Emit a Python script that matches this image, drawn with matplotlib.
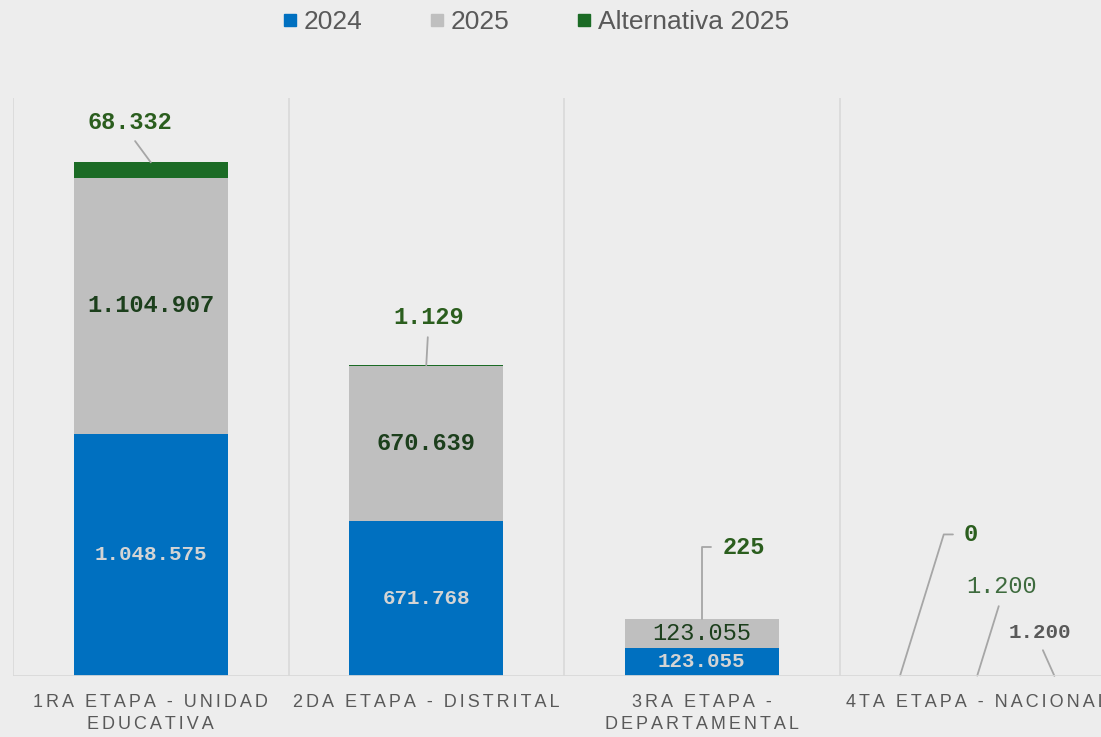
import matplotlib
matplotlib.use("Agg")
import matplotlib.pyplot as plt
from matplotlib import font_manager
from matplotlib.lines import Line2D
import numpy as np

# values
categories = ["1RA ETAPA - UNIDAD\nEDUCATIVA", "2DA ETAPA - DISTRITAL",
              "3RA ETAPA -\nDEPARTAMENTAL", "4TA ETAPA - NACIONAL"]
v2024 = [1048575, 671768, 123055, 1200]
v2025 = [1104907, 670639, 123055, 1200]
v_alt = [68332, 1129, 225, 0]
series_names = ["2024", "2025", "Alternativa 2025"]

BLUE, GRAY, GREEN = "#0070C0", "#BFBFBF", "#1B6B25"
TXT = "#595959"
LEADER = "#A6A6A6"

installed = {f.name for f in font_manager.fontManager.ttflist}
if "Liberation Sans Narrow" in installed:
    cat_family, cat_size, gap = ["Liberation Sans Narrow", "Liberation Sans", "DejaVu Sans"], 14, "\u2009"
else:
    cat_family, cat_size, gap = ["Liberation Sans", "DejaVu Sans"], 13, "\u2006"
MONO = ["Liberation Mono", "DejaVu Sans Mono"]


def fmt(v):
    return f"{v:,}".replace(",", ".")


def spaced(s):
    # imitate the wide letter spacing of the category labels
    return "\n".join(gap.join(line) for line in s.split("\n"))


fig = plt.figure(figsize=(11.01, 7.37), dpi=100, facecolor="#EDEDED")
ax = fig.add_axes([13 / 1101, 61 / 737, 1102 / 1101, 578 / 737])
ax.set_facecolor("none")

x = np.arange(len(categories))
w = 0.56
ax.bar(x, v2024, w, color=BLUE, zorder=3)
ax.bar(x, v2025, w, bottom=v2024, color=GRAY, zorder=3)
bottom_alt = np.array(v2024) + np.array(v2025)
ax.bar(x, v_alt, w, bottom=bottom_alt, color=GREEN, lw=0, zorder=3)

ax.set_xlim(-0.5, len(categories) - 0.5)
ax.set_ylim(0, 2.5e6)
for s in ax.spines.values():
    s.set_visible(False)
ax.set_yticks([])
for b in np.arange(-0.5, len(categories), 1.0):
    ax.axvline(b, color="#D9D9D9", lw=1.2, zorder=1)
ax.axhline(0, color="#D9D9D9", lw=2, zorder=4)

ax.set_xticks(x)
ax.set_xticklabels([spaced(c) for c in categories], family=cat_family,
                   fontsize=cat_size, color=TXT, linespacing=1.4)
ax.tick_params(axis="x", length=0, pad=13)

# labels inside the segments (first three stages)
w2025_inside = ["bold", "bold", "normal"]
for i in range(3):
    ax.text(x[i], v2024[i] / 2, fmt(v2024[i]), ha="center", va="center",
            family=MONO, fontsize=15, fontweight="bold", color="#D4D4D4", zorder=5)
    ax.text(x[i], v2024[i] + v2025[i] / 2, fmt(v2025[i]), ha="center", va="center",
            family=MONO, fontsize=17, fontweight=w2025_inside[i], color="#1C3F1C", zorder=5)

# labels outside with leader lines
lead = dict(arrowstyle="-", color=LEADER, lw=1.3)
alt_offsets = [(-21, 40), (2, 48), (42, 72)]
for i in range(3):
    top = bottom_alt[i] + v_alt[i]
    if i < 2:
        ap = dict(lead, shrinkA=4, shrinkB=0, relpos=(0.5, 0))
    else:
        ap = dict(lead, shrinkA=6, shrinkB=0, relpos=(0, 0.5),
                  connectionstyle="angle,angleA=0,angleB=90,rad=0")
    ax.annotate(fmt(v_alt[i]), xy=(x[i], top), xytext=alt_offsets[i],
                textcoords="offset pixels", ha="center", va="center",
                family=MONO, fontsize=17, fontweight="bold", color="#2B5E1E",
                arrowprops=ap, zorder=6)

# fourth stage: bars too small, all labels outside
i = 3
top4 = bottom_alt[i] + v_alt[i]
ax.annotate(fmt(v_alt[i]), xy=(x[i] - w / 2, top4), xytext=(71, 141),
            textcoords="offset pixels", ha="center", va="center",
            family=MONO, fontsize=17, fontweight="bold", color="#2B5E1E",
            arrowprops=dict(lead, shrinkA=6, shrinkB=0, relpos=(0, 0.5),
                            connectionstyle="angle,angleA=0,angleB=72.8,rad=0"))
ax.annotate(fmt(v2025[i]), xy=(x[i], v2024[i] + v2025[i] / 2), xytext=(24, 89),
            textcoords="offset pixels", ha="center", va="center",
            family=MONO, fontsize=17, color="#3E6B3E",
            arrowprops=dict(lead, shrinkA=4, shrinkB=0, relpos=(0.5, 0)))
ax.annotate(fmt(v2024[i]), xy=(x[i] + w / 2, v2024[i] / 2), xytext=(-15, 43),
            textcoords="offset pixels", ha="center", va="center",
            family=MONO, fontsize=15, fontweight="bold", color=TXT,
            arrowprops=dict(lead, shrinkA=4, shrinkB=0, relpos=(0.5, 0)))

handles = [Line2D([], [], marker="s", ls="none", markersize=9, color=c)
           for c in (BLUE, GRAY, GREEN)]
fig.legend(handles, series_names, loc="upper center", bbox_to_anchor=(0.487, 1.019),
           ncol=3, frameon=False, handlelength=0.5,
           handletextpad=0.25, columnspacing=2.6, labelcolor=TXT,
           prop={"family": ["Liberation Sans", "DejaVu Sans"], "size": 19})

fig.savefig("out.png", dpi=100, facecolor=fig.get_facecolor())
